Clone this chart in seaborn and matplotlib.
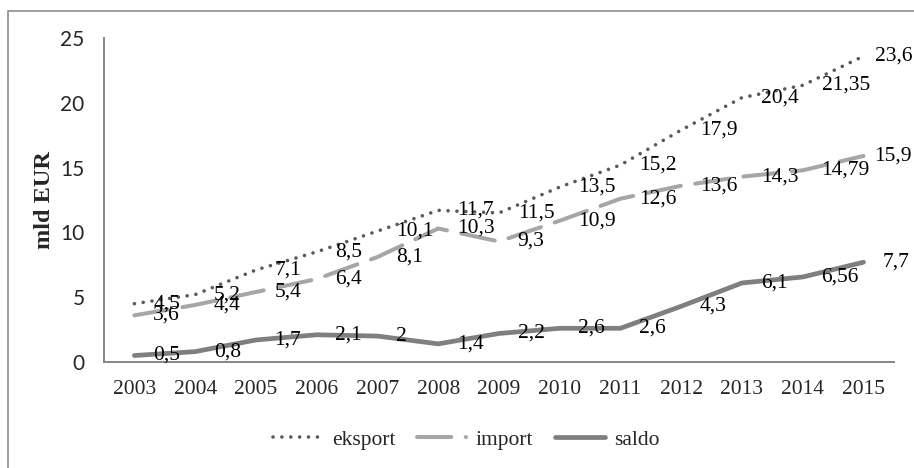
import pandas as pd
import matplotlib.pyplot as plt
import matplotlib.patches as patches
import seaborn as sns

# data (mld EUR)
years = [2003, 2004, 2005, 2006, 2007, 2008, 2009, 2010, 2011, 2012, 2013, 2014, 2015]
eksport = [4.5, 5.2, 7.1, 8.5, 10.1, 11.7, 11.5, 13.5, 15.2, 17.9, 20.4, 21.35, 23.6]
imports = [3.6, 4.4, 5.4, 6.4, 8.1, 10.3, 9.3, 10.9, 12.6, 13.6, 14.3, 14.79, 15.9]
saldo = [0.5, 0.8, 1.7, 2.1, 2, 1.4, 2.2, 2.6, 2.6, 4.3, 6.1, 6.56, 7.7]
yticks = [0, 5, 10, 15, 20, 25]

df = pd.DataFrame({"year": years, "eksport": eksport, "import": imports, "saldo": saldo})

sns.set_style("white")
plt.rcParams["font.family"] = ["Liberation Serif", "DejaVu Serif"]
SERIF = 15.5

fig = plt.figure(figsize=(9.14, 4.68), dpi=100)
ax = fig.add_axes([0.1138, 0.2265, 0.8642, 0.6923])

styles = {
    "eksport": dict(color="#5a5a5a", lw=2.6, linestyle=(0, (0.01, 2.45)), dash_capstyle="round"),
    "import": dict(color="#a6a6a6", lw=2.9, linestyle=(0, (8.5, 3.6)), dash_capstyle="round"),
    "saldo": dict(color="#7f7f7f", lw=3.4, linestyle="-", solid_capstyle="round"),
}

for name in ["eksport", "import", "saldo"]:
    sns.lineplot(data=df, x="year", y=name, ax=ax, label=name, **styles[name])

# value labels, right of each point (comma decimal)
for name in ["eksport", "import", "saldo"]:
    for i, (x, y) in enumerate(zip(df["year"], df[name])):
        txt = ("%g" % y).replace(".", ",")
        dx = 8 if i == len(years) - 1 and name != "saldo" else 13.5
        ax.annotate(txt, (x, y), xytext=(dx, 0), textcoords="offset points",
                    ha="left", va="center", fontsize=SERIF, color="black")

ax.set_xlim(2002.5, 2015.5)
ax.set_ylim(0, 25)
ax.set_xticks(years)
ax.set_xticklabels([str(y) for y in years], fontsize=SERIF)
ax.set_yticks(yticks)
ax.set_yticklabels([str(t) for t in yticks], fontsize=15, family="Lato")
ax.tick_params(axis="x", length=0, pad=13)
ax.tick_params(axis="y", length=0, pad=14)
ax.set_xlabel("")
ax.set_ylabel("mld EUR", fontsize=17.5, fontweight="bold", labelpad=4)

sns.despine(ax=ax)
for s in ["left", "bottom"]:
    ax.spines[s].set_color("#868686")
    ax.spines[s].set_linewidth(1.4)

ax.legend(loc="center", bbox_to_anchor=(0.51, 0.06), bbox_transform=fig.transFigure,
          ncol=3, frameon=False, prop={"family": "Liberation Serif", "size": SERIF},
          handlelength=2.3, handletextpad=0.45, columnspacing=1.0)

# outer chart border
fig.add_artist(patches.Rectangle((0.009, -0.05), 1.05, 1.0265, transform=fig.transFigure,
                                 fill=False, ec="#8c8c8c", lw=1.2))

plt.savefig("out.png", dpi=100)
